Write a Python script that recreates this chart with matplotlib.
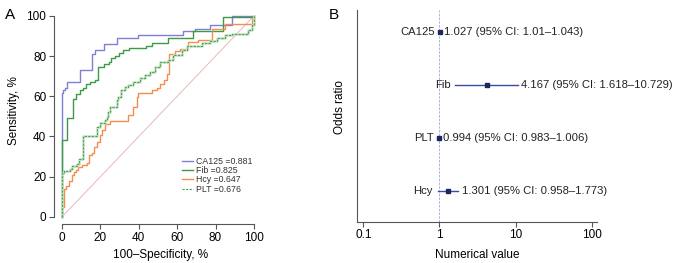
import numpy as np
import matplotlib
matplotlib.use("Agg")
import matplotlib.pyplot as plt

plt.rcParams['font.family'] = ['Liberation Sans', 'DejaVu Sans']

# ROC curves (100-specificity, sensitivity), step corners
ca125_x = [0, 0, 0.5, 1.7, 2.8, 9.4, 15.5, 17.2, 22, 28.5, 39.4, 63.2, 69.3, 77, 88.7, 100]
ca125_y = [0, 61.7, 63, 64, 67, 73, 81, 83, 86, 89, 90.7, 92.4, 93.7, 95.4, 100, 100]

fib_x = [0, 0, 2.6, 5.5, 5.9, 7.3, 9.2, 10.8, 12.7, 14.7, 17.3, 19, 21.7, 24.3, 25.6, 27.7,
         29.5, 31.7, 34.7, 44, 46.8, 55.4, 68.4, 84, 100]
fib_y = [0, 38, 49.3, 50, 58.5, 61, 63, 64, 66, 67, 68, 74.5, 76, 77, 79, 80,
         81.5, 83, 84, 85, 86.3, 88.8, 92.5, 99.3, 100]

hcy_x = [0, 0, 1, 2.1, 3.5, 5.1, 6.4, 7.3, 8.5, 10.3, 13.2, 14.2, 15.5, 16.8, 18.4, 19.8,
         20.7, 22.4, 25, 34.5, 37.1, 38.9, 39.7, 46.7, 49.3, 51, 52.9, 54.6, 55.7, 58.9,
         61.5, 65.8, 71, 77.9, 84.9, 98.8, 100]
hcy_y = [0, 5, 14.1, 15.5, 17.9, 20.7, 22.4, 23.5, 24.9, 25.7, 27, 30.7, 31.8, 34.8, 37.3, 40.6,
         43.1, 46.1, 47.8, 50.6, 54.7, 59.7, 61.4, 63, 64, 66, 68, 71, 81, 82.6,
         83.5, 87, 88, 93.7, 96.2, 98.5, 100]

plt_x = [0, 0, 1, 4.2, 5.4, 8, 9, 10.7, 18.4, 19.8, 22.4, 23.3, 24.1, 25, 28.5, 29.3, 30.7,
         32.8, 34.5, 37.1, 40.6, 43.2, 45.8, 48.4, 51, 55.4, 58, 62.3, 65, 72.8, 77.1, 80.6,
         84.9, 88.4, 97, 98.8, 100]
plt_y = [0, 21.6, 22.7, 24, 25.2, 26.5, 28.6, 40.1, 44.8, 46.5, 48.1, 49.5, 52.2, 54.7, 58, 59.7, 63,
         64.4, 65.5, 67.2, 68.9, 70.5, 72.1, 74.6, 77.1, 78, 80.5, 83, 84.9, 86.3, 87.5, 88.8,
         90.4, 91.2, 92.9, 95.4, 100]

# odds ratios
names = ['CA125', 'Fib', 'PLT', 'Hcy']
odds = [1.027, 4.167, 0.994, 1.301]
ci_lo = [1.01, 1.618, 0.983, 0.958]
ci_hi = [1.043, 10.729, 1.006, 1.773]

fig = plt.figure(figsize=(6.74, 2.63), dpi=100)

# ---- panel A
ax = fig.add_axes([0.0801, 0.148, 0.308, 0.822])
ax.plot([0, 100], [0, 100], color='#e8b9b9', lw=0.7)
ax.plot(ca125_x, ca125_y, drawstyle='steps-post', color='#7f7fd5', lw=1, label='CA125 =0.881')
ax.plot(fib_x, fib_y, drawstyle='steps-post', color='#3d9a47', lw=1, label='Fib =0.825')
ax.plot(hcy_x, hcy_y, drawstyle='steps-post', color='#f58d4f', lw=1, label='Hcy =0.647')
ax.plot(plt_x, plt_y, drawstyle='steps-post', color='#c3e3c3', lw=1.8)
ax.plot(plt_x, plt_y, drawstyle='steps-post', color='#4f9f55', lw=0.8, ls=(0, (2, 1.2)),
        label='PLT =0.676')
ax.set_xlim(-4.2, 104)
ax.set_ylim(-3.6, 104)
ax.set_xticks([0, 20, 40, 60, 80, 100])
ax.set_yticks([0, 20, 40, 60, 80, 100])
for s in ['top', 'right']:
    ax.spines[s].set_visible(False)
ax.spines['left'].set_bounds(0, 100)
ax.spines['bottom'].set_bounds(0, 100)
for s in ['left', 'bottom']:
    ax.spines[s].set_color('#555555')
    ax.spines[s].set_linewidth(0.8)
ax.tick_params(labelsize=8.5, length=3.5, width=0.8, pad=2, color='#555555')
ax.set_xlabel('100\u2013Specificity, %', fontsize=8.5)
ax.set_ylabel('Sensitivity, %', fontsize=8.5)
ax.xaxis.set_label_coords(0.514, -0.113)
ax.yaxis.set_label_coords(-0.162, 0.527)
leg = ax.legend(loc='upper left', bbox_to_anchor=(0.615, 0.31), frameon=False, fontsize=6.3,
                labelspacing=0.02, handlelength=1.3, handletextpad=0.3, borderpad=0,
                borderaxespad=0)
for t in leg.get_texts():
    t.set_color('#333333')

# ---- panel B
bx = fig.add_axes([0.5292, 0.157, 0.3565, 0.805])
bx.set_xscale('log')
ypos = np.arange(len(names), 0, -1)
bx.axvline(1, color='#a3a3e3', lw=0.6, ls=(0, (3, 1.5)))
for i in range(len(names)):
    bx.plot([ci_lo[i], ci_hi[i]], [ypos[i], ypos[i]], color='#3b4ba0', lw=1)
    bx.plot(odds[i], ypos[i], marker='s', ms=3, color='#1c2660', ls='none')
    bx.annotate(names[i], (ci_lo[i], ypos[i]), xytext=(-5, 0), textcoords='offset pixels',
                ha='right', va='center', fontsize=8.1, color='#222222')
    bx.annotate(f"{odds[i]:g} (95% CI: {ci_lo[i]:g}\u2013{ci_hi[i]:g})", (ci_hi[i], ypos[i]),
                xytext=(3.5, 0), textcoords='offset pixels', ha='left', va='center',
                fontsize=8.1, color='#222222')
bx.set_xlim(10 ** -1.087, 10 ** 2.07)
bx.set_ylim(0.41, 4.42)
bx.set_xticks([0.1, 1, 10, 100])
bx.set_xticklabels(['0.1', '1', '10', '100'])
bx.xaxis.set_minor_locator(matplotlib.ticker.NullLocator())
bx.set_yticks([])
for s in ['top', 'right']:
    bx.spines[s].set_visible(False)
for s in ['left', 'bottom']:
    bx.spines[s].set_color('#555555')
    bx.spines[s].set_linewidth(0.8)
bx.tick_params(labelsize=8.5, length=3.5, width=0.8, pad=2, color='#555555')
bx.set_xlabel('Numerical value', fontsize=8.5)
bx.set_ylabel('Odds ratio', fontsize=8.5)
bx.xaxis.set_label_coords(0.5, -0.127)
bx.yaxis.set_label_coords(-0.045, 0.543)

fig.text(0.015, 0.943, 'A', fontsize=11, va='center', ha='center')
fig.text(0.4955, 0.943, 'B', fontsize=11, va='center', ha='center')

fig.savefig('out.png', dpi=100)
